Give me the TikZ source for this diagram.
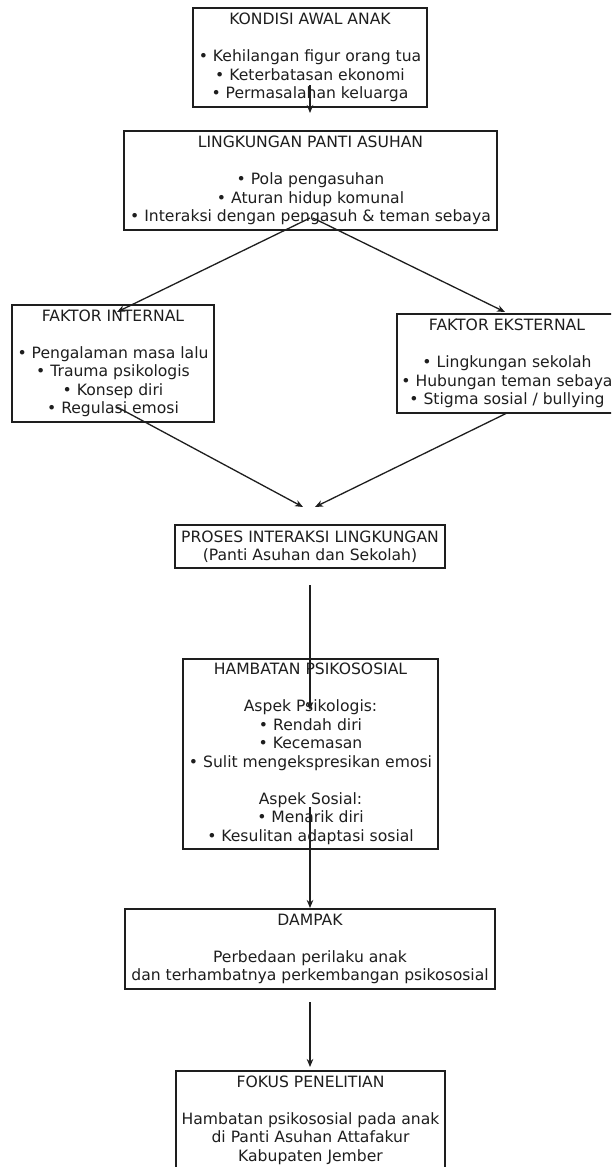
\documentclass[tikz,border=0pt]{standalone}
\usepackage{fontspec}
\newfontfamily\dejavu{DejaVu Sans}
\usetikzlibrary{arrows.meta}
\definecolor{ink}{HTML}{1E1E1E}
\tikzset{
  box/.style={draw=ink, line width=1.5pt, align=center, inner sep=0pt, text=ink,
    font=\dejavu\fontsize{15.6}{18.5}\selectfont},
  conn/.style={draw=ink, line width=1.3pt, -{Stealth[length=8pt,width=6.5pt,inset=2.5pt]}}
}
\begin{document}
\begin{tikzpicture}[x=1pt,y=-1pt]
\path[use as bounding box, fill=white] (0,0) rectangle (611,1167);
\clip (0,0) rectangle (611,1167);

\node[box, minimum width=234, minimum height=99] (kondisi) at (310,57.5)
  {KONDISI AWAL ANAK\\[18.5pt]• Kehilangan figur orang tua\\• Keterbatasan ekonomi\\• Permasalahan keluarga};
\node[box, minimum width=373, minimum height=99] (lingkungan) at (310.5,180.5)
  {LINGKUNGAN PANTI ASUHAN\\[18.5pt]• Pola pengasuhan\\• Aturan hidup komunal\\• Interaksi dengan pengasuh \& teman sebaya};
\node[box, minimum width=202, minimum height=117] (internal) at (113,363.5)
  {FAKTOR INTERNAL\\[18.5pt]• Pengalaman masa lalu\\• Trauma psikologis\\• Konsep diri\\• Regulasi emosi};
\node[box, minimum width=220, minimum height=99] (eksternal) at (507,363.5)
  {FAKTOR EKSTERNAL\\[18.5pt]• Lingkungan sekolah\\• Hubungan teman sebaya\\• Stigma sosial / bullying};
\node[box, minimum width=270, minimum height=43] (proses) at (310,546.5)
  {PROSES INTERAKSI LINGKUNGAN\\(Panti Asuhan dan Sekolah)};
\node[box, minimum width=255, minimum height=190] (hambatan) at (310.5,754)
  {HAMBATAN PSIKOSOSIAL\\[18.5pt]Aspek Psikologis:\\• Rendah diri\\• Kecemasan\\• Sulit mengekspresikan emosi\\[18.5pt]Aspek Sosial:\\• Menarik diri\\• Kesulitan adaptasi sosial};
\node[box, minimum width=370, minimum height=80] (dampak) at (310,949)
  {DAMPAK\\[18.5pt]Perbedaan perilaku anak\\dan terhambatnya perkembangan psikososial};
\node[box, minimum width=269, minimum height=98] (fokus) at (310.5,1120)
  {FOKUS PENELITIAN\\[18.5pt]Hambatan psikososial pada anak\\di Panti Asuhan Attafakur\\Kabupaten Jember};

\coordinate (a1s) at (310,85);   \coordinate (a1e) at (310,113);
\coordinate (a2s) at (310,218);  \coordinate (a2e) at (117,312);
\coordinate (a3s) at (313,218);  \coordinate (a3e) at (505,312);
\coordinate (a4s) at (117,407);  \coordinate (a4e) at (303,507);
\coordinate (a5s) at (507,413);  \coordinate (a5e) at (315,507);
\coordinate (a6s) at (310,585);  \coordinate (a6e) at (310,710);
\coordinate (a7s) at (310,807);  \coordinate (a7e) at (310,908);
\coordinate (a8s) at (310,1002); \coordinate (a8e) at (310,1067);

\draw[conn] (a1s) -- (a1e);
\draw[conn] (a2s) -- (a2e);
\draw[conn] (a3s) -- (a3e);
\draw[conn] (a4s) -- (a4e);
\draw[conn] (a5s) -- (a5e);
\draw[conn] (a6s) -- (a6e);
\draw[conn] (a7s) -- (a7e);
\draw[conn] (a8s) -- (a8e);
\end{tikzpicture}
\end{document}
